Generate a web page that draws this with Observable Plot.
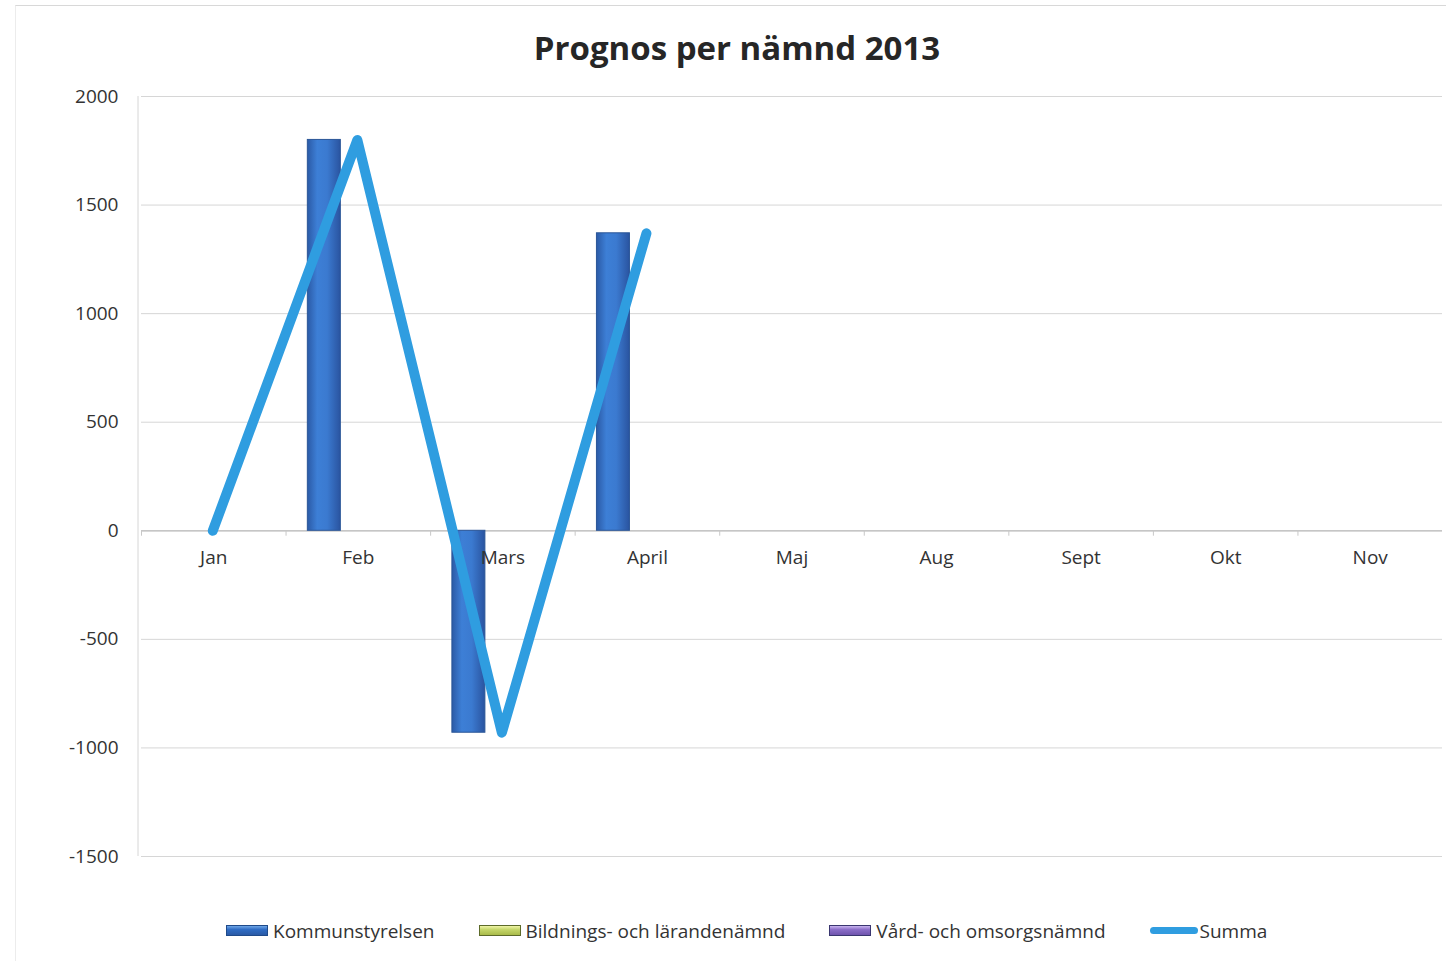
<!DOCTYPE html>
<html>
<head>
<meta charset="utf-8">
<script src="https://cdn.jsdelivr.net/npm/d3@7"></script>
<script src="https://cdn.jsdelivr.net/npm/@observablehq/plot@0.6"></script>
<style>
  html, body { margin: 0; padding: 0; background: #fff; }
  body { width: 1446px; height: 961px; position: relative; overflow: hidden; font-family: "Open Sans", sans-serif; color: #333; }
  #frame { position: absolute; left: 15px; top: 5px; right: 0; bottom: 0; border-top: 1px solid #d8d8d8; border-left: 1px solid #ececec; pointer-events: none; }
  #title { height: 70px; box-sizing: border-box; padding-left: 28px; padding-top: 25px; text-align: center; font-weight: 700; font-size: 33px; line-height: 46px; color: #262626; }
  #chart { height: 830px; }
  #legend { height: 61px; display: flex; align-items: center; gap: 44px; padding-left: 226px; font-size: 19px; color: #333; }
  .item { display: flex; align-items: center; }
  .sw { width: 40px; height: 9px; margin-right: 5px; border: 1px solid; }
  .ln { width: 48px; height: 7px; border-radius: 4px; margin-right: 2px; background: #2f9de0; }
</style>
</head>
<body>
<div id="frame"></div>
<div id="title">Prognos per nämnd 2013</div>
<div id="chart"></div>
<div id="legend"></div>
<script>
// ---- data ----
const months = ["Jan", "Feb", "Mars", "April", "Maj", "Aug", "Sept", "Okt", "Nov"];
const kommunstyrelsen = [0, 1800, -930, 1370, null, null, null, null, null];
const bildnings = [0, 0, 0, 0, null, null, null, null, null];
const vard = [0, 0, 0, 0, null, null, null, null, null];
const summa = [0, 1800, -930, 1370, null, null, null, null, null];
const yTicks = [-1500, -1000, -500, 0, 500, 1000, 1500, 2000];
const seriesNames = ["Kommunstyrelsen", "Bildnings- och lärandenämnd", "Vård- och omsorgsnämnd", "Summa"];

const rows = (vals) => months.map((m, i) => ({month: m, value: vals[i]})).filter(d => d.value != null);
const ksRows = rows(kommunstyrelsen);
const biRows = rows(bildnings);
const vaRows = rows(vard);
const suRows = rows(summa);
const monthRows = months.map(m => ({month: m}));

const W = 1446, H = 830;
const step = (W - 141 - 4) / months.length;
const barW = 33;
const pin = 1 - barW / step;

const chart = Plot.plot({
  width: W,
  height: H,
  marginTop: 26,
  marginBottom: 44,
  marginLeft: 141,
  marginRight: 4,
  style: {fontFamily: "Open Sans, sans-serif", fontSize: "19px", color: "#333", background: "transparent"},
  x: {type: "band", domain: months, paddingInner: pin, paddingOuter: pin / 2, round: false, axis: null},
  y: {domain: [-1500, 2000], ticks: yTicks, tickFormat: d => String(d), tickSize: 0, tickPadding: 23, label: null},
  marks: [
    Plot.ruleY(yTicks, {stroke: "#d6d6d6", strokeWidth: 1}),
    Plot.ruleY([0], {stroke: "#bdbdbd", strokeWidth: 1.2}),
    Plot.ruleX(monthRows, {x: "month", y1: 0, y2: -25, dx: -step / 2, stroke: "#c8c8c8"}),
    Plot.barY(ksRows, {x: "month", y: "value", dx: -barW - 1, fill: "url(#ksGrad)", stroke: "#2a5597", strokeWidth: 1}),
    Plot.barY(biRows, {x: "month", y: "value", dx: 0, fill: "#c5d66a"}),
    Plot.barY(vaRows, {x: "month", y: "value", dx: barW, fill: "#8b6ec8"}),
    Plot.text(monthRows, {x: "month", y: () => 0, text: "month", dy: 27, fill: "#333", fontSize: 19}),
    Plot.line(suRows, {x: "month", y: "value", dx: -1, stroke: "#2f9de0", strokeWidth: 10, strokeLinecap: "round", strokeLinejoin: "round"})
  ]
});

// y-axis line and gradient defs
const svg = d3.select(chart);
const defs = svg.insert("defs", ":first-child");
const g = defs.append("linearGradient").attr("id", "ksGrad").attr("x1", "0").attr("x2", "1").attr("y1", "0").attr("y2", "0");
[["0%", "#2b5aa6"], ["30%", "#3d7fd6"], ["60%", "#3b7ad0"], ["100%", "#2a54a0"]].forEach(([o, c]) => g.append("stop").attr("offset", o).attr("stop-color", c));
svg.append("line").attr("x1", 138).attr("x2", 138).attr("y1", 96 - 70).attr("y2", H - 44).attr("stroke", "#d6d6d6");

document.getElementById("chart").appendChild(chart);

// legend
const legend = document.getElementById("legend");
const swatches = [
  {bg: "linear-gradient(#6ea6e6, #2f6cc4 40%, #2a5aa6)", bd: "#1f4a8a"},
  {bg: "linear-gradient(#f0f5a8, #c5d66a 40%, #a9bb4a)", bd: "#5d6b2a"},
  {bg: "linear-gradient(#c9b5ef, #8b6ec8 40%, #6f54ad)", bd: "#3a3670"},
  null
];
seriesNames.forEach((name, i) => {
  const item = document.createElement("div");
  item.className = "item";
  const sw = document.createElement("div");
  if (swatches[i]) {
    sw.className = "sw";
    sw.style.background = swatches[i].bg;
    sw.style.borderColor = swatches[i].bd;
  } else {
    sw.className = "ln";
  }
  item.appendChild(sw);
  const t = document.createElement("span");
  t.textContent = name;
  item.appendChild(t);
  legend.appendChild(item);
});
</script>
</body>
</html>
